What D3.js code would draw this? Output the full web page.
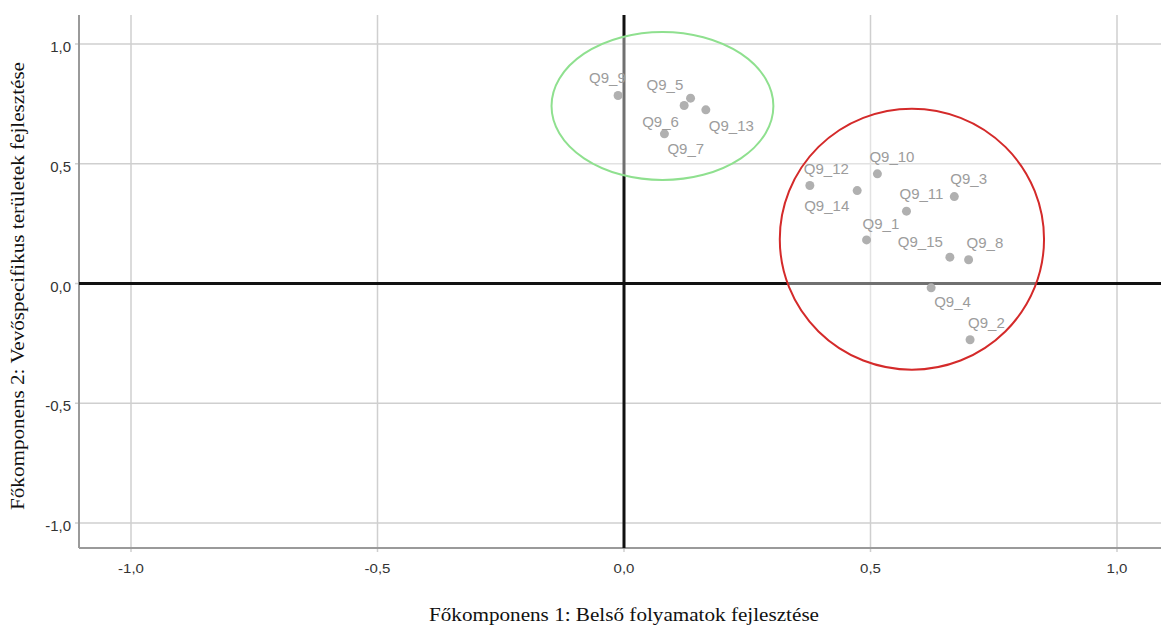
<!DOCTYPE html>
<html>
<head>
<meta charset="utf-8">
<script src="https://cdn.jsdelivr.net/npm/d3@7"></script>
<style>
  body { margin: 0; background: #fff; }
  svg { display: block; }
</style>
</head>
<body>
<div id="chart"></div>
<script>
// Component plot (SPSS style) - loadings on two principal components

const width = 1161;
const height = 628;

// Variable names and their loadings
const names = ["Q9_9", "Q9_5", "Q9_6", "Q9_7", "Q9_13",
  "Q9_12", "Q9_14", "Q9_10", "Q9_3", "Q9_11",
  "Q9_1", "Q9_15", "Q9_8", "Q9_4", "Q9_2"];
const comp1 = [-0.012, 0.135, 0.122, 0.082, 0.166,
  0.377, 0.473, 0.514, 0.670, 0.573,
  0.492, 0.661, 0.699, 0.623, 0.702];
const comp2 = [0.785, 0.774, 0.743, 0.625, 0.725,
  0.409, 0.388, 0.458, 0.363, 0.302,
  0.182, 0.110, 0.099, -0.018, -0.235];

// Label placement relative to each point (px)
const labelDx = [-29, -44, -42, 3, 3, -6, -53, -8, -4, -7, -4, -52, -2, 3, -2];
const labelDy = [-12, -8, 21, 20, 21, -12, 20, -12, -13, -12, -11, -10, -12, 19, -12];

// Ticks
const tickValues = [-1, -0.5, 0, 0.5, 1];
const fmt = v => d3.format(".1f")(v).replace(".", ",").replace("−", "-");

// Hand-drawn cluster rings (centre and radii in data units)
const ringCx = [0.078, 0.584];
const ringCy = [0.741, 0.185];
const ringRx = [0.225, 0.268];
const ringRy = [0.309, 0.545];
const ringColor = ["#8fe08f", "#d42a2a"];

const xTitle = "Főkomponens 1: Belső folyamatok fejlesztése";
const yTitle = "Főkomponens 2: Vevőspecifikus területek fejlesztése";

const svg = d3.select("#chart")
  .append("svg")
  .attr("width", width)
  .attr("height", height);

// scales
const x = d3.scaleLinear().domain([-1, 1]).range([131, 1117]);
const y = d3.scaleLinear().domain([-1, 1]).range([523, 44]);

const plotLeft = 79, plotRight = 1161, plotTop = 15, plotBottom = 548;

// gridlines
svg.append("g")
  .selectAll("line")
  .data(tickValues)
  .join("line")
  .attr("x1", d => x(d)).attr("x2", d => x(d))
  .attr("y1", plotTop).attr("y2", plotBottom + 4)
  .attr("stroke", "#cfcfcf")
  .attr("stroke-width", 1.5);

svg.append("g")
  .selectAll("line")
  .data(tickValues)
  .join("line")
  .attr("x1", plotLeft - 4).attr("x2", plotRight)
  .attr("y1", d => y(d)).attr("y2", d => y(d))
  .attr("stroke", "#cfcfcf")
  .attr("stroke-width", 1.5);

// axis frame lines
svg.append("line")
  .attr("x1", plotLeft).attr("x2", plotLeft)
  .attr("y1", plotTop).attr("y2", plotBottom)
  .attr("stroke", "#9a9a9a").attr("stroke-width", 2);
svg.append("line")
  .attr("x1", plotLeft).attr("x2", plotRight)
  .attr("y1", plotBottom).attr("y2", plotBottom)
  .attr("stroke", "#9a9a9a").attr("stroke-width", 2);

// tick labels
svg.append("g")
  .selectAll("text")
  .data(tickValues)
  .join("text")
  .attr("x", 71)
  .attr("y", d => y(d) + 8)
  .attr("text-anchor", "end")
  .attr("font-family", "Arial, 'Liberation Sans', sans-serif")
  .attr("font-size", 15)
  .attr("fill", "#333")
  .text(fmt);

// x tick labels look horizontally stretched in the source
svg.append("g")
  .selectAll("text")
  .data(tickValues)
  .join("text")
  .attr("transform", d => `translate(${x(d)},573) scale(1.25,1)`)
  .attr("text-anchor", "middle")
  .attr("font-family", "Arial, 'Liberation Sans', sans-serif")
  .attr("font-size", 12)
  .attr("fill", "#333")
  .text(fmt);

// zero reference lines
svg.append("line")
  .attr("x1", plotLeft).attr("x2", plotRight)
  .attr("y1", y(0)).attr("y2", y(0))
  .attr("stroke", "#111").attr("stroke-width", 3);
svg.append("line")
  .attr("x1", x(0)).attr("x2", x(0))
  .attr("y1", plotTop).attr("y2", plotBottom)
  .attr("stroke", "#111").attr("stroke-width", 3);

// cluster rings (semi-transparent so the lines beneath look faded)
svg.append("g")
  .selectAll("ellipse")
  .data(d3.range(ringCx.length))
  .join("ellipse")
  .attr("cx", i => x(ringCx[i]))
  .attr("cy", i => y(ringCy[i]))
  .attr("rx", i => x(ringRx[i]) - x(0))
  .attr("ry", i => y(0) - y(ringRy[i]))
  .attr("fill", "#fff")
  .attr("fill-opacity", 0.4)
  .attr("stroke", i => ringColor[i])
  .attr("stroke-width", 2);

// points
const pts = names.map((n, i) => ({name: n, c1: comp1[i], c2: comp2[i], dx: labelDx[i], dy: labelDy[i]}));

svg.append("g")
  .selectAll("circle")
  .data(pts)
  .join("circle")
  .attr("cx", d => x(d.c1))
  .attr("cy", d => y(d.c2))
  .attr("r", 4.5)
  .attr("fill", "#b0b0b0");

svg.append("g")
  .selectAll("text")
  .data(pts)
  .join("text")
  .attr("x", d => x(d.c1) + d.dx)
  .attr("y", d => y(d.c2) + d.dy)
  .attr("font-family", "Arial, 'Liberation Sans', sans-serif")
  .attr("font-size", 15)
  .attr("fill", "#9c9c9c")
  .text(d => d.name);

// axis titles
svg.append("text")
  .attr("x", 624)
  .attr("y", 621)
  .attr("text-anchor", "middle")
  .attr("font-family", "'Times New Roman', 'Liberation Serif', serif")
  .attr("font-size", 18)
  .attr("textLength", 390)
  .attr("lengthAdjust", "spacingAndGlyphs")
  .attr("fill", "#111")
  .text(xTitle);

svg.append("text")
  .attr("transform", "translate(24,286) rotate(-90)")
  .attr("text-anchor", "middle")
  .attr("font-family", "'Times New Roman', 'Liberation Serif', serif")
  .attr("font-size", 19)
  .attr("textLength", 448)
  .attr("lengthAdjust", "spacingAndGlyphs")
  .attr("fill", "#111")
  .text(yTitle);
</script>
</body>
</html>
